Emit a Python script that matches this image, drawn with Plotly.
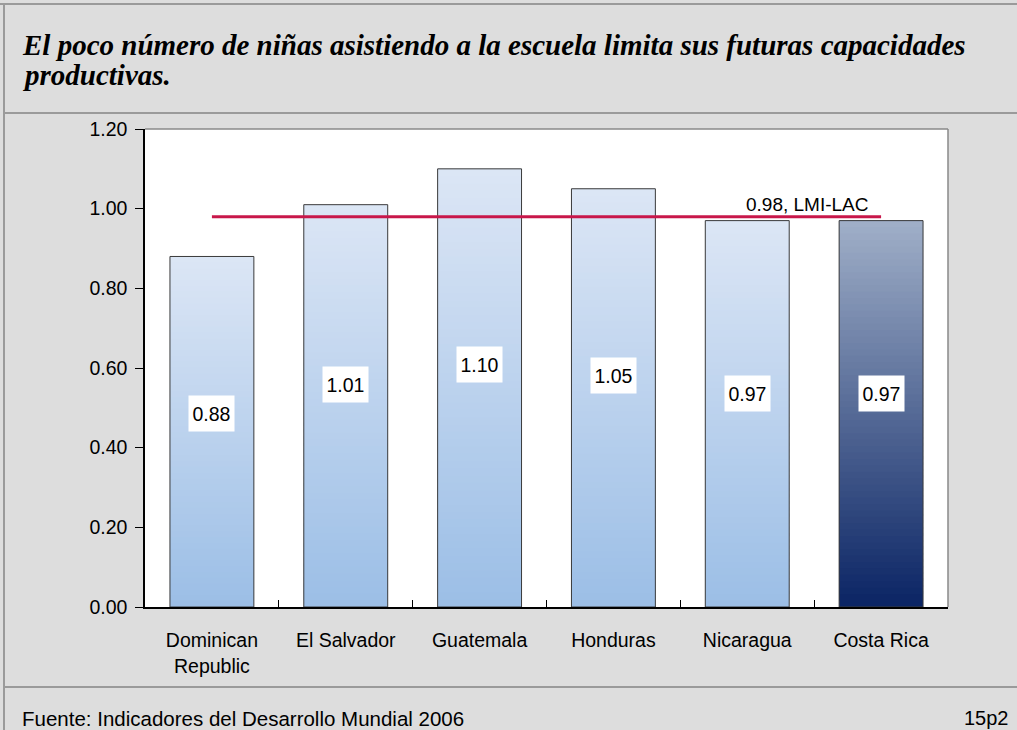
import plotly.graph_objects as go

categories = ["Dominican<br>Republic", "El Salvador", "Guatemala", "Honduras", "Nicaragua", "Costa Rica"]
values = [0.88, 1.01, 1.10, 1.05, 0.97, 0.97]
value_labels = ["0.88", "1.01", "1.10", "1.05", "0.97", "0.97"]
benchmark_value = 0.98
benchmark_label = "0.98, LMI-LAC"
y_ticks = [0.0, 0.2, 0.4, 0.6, 0.8, 1.0, 1.2]
title_line1 = "El poco número de niñas asistiendo a la escuela limita sus futuras capacidades"
title_line2 = "productivas."
source_text = "Fuente: Indicadores del Desarrollo Mundial 2006"
page_text = "15p2"

# gradient colours (bottom, top) per bar
light_bottom, light_top = (155, 190, 230), (220, 230, 245)
dark_bottom, dark_top = (10, 36, 100), (160, 175, 200)
grad = [(light_bottom, light_top)] * 5 + [(dark_bottom, dark_top)]

W, H = 1017, 730
ML, MR, MT, MB = 145, 69, 129, 123
PW, PH = W - ML - MR, H - MT - MB

def px_x(p):
    return (p - ML) / PW

def px_y(p):
    return (H - MB - p) / PH

fig = go.Figure()

N = 60
for i in range(N):
    t = (i + 0.5) / N
    cols = []
    for b, tp in grad:
        c = tuple(round(b[k] * (1 - t) + tp[k] * t) for k in range(3))
        cols.append("rgb(%d,%d,%d)" % c)
    bases = [v * i / N for v in values]
    heights = [min(2.5 * v / N, v - bs) for v, bs in zip(values, bases)]
    fig.add_trace(go.Bar(
        x=categories, y=heights, base=bases,
        marker=dict(color=cols, line=dict(width=0)), showlegend=False, hoverinfo="skip",
    ))

fig.add_trace(go.Bar(
    x=categories, y=values,
    marker=dict(color="rgba(0,0,0,0)", line=dict(color="#3a3a3a", width=1)),
    showlegend=False,
))

fig.add_trace(go.Scatter(
    x=[categories[0], categories[-1]], y=[benchmark_value, benchmark_value],
    mode="lines", line=dict(color="#C8174A", width=3), showlegend=False,
))

for c, v, lab in zip(categories, values, value_labels):
    fig.add_annotation(x=c, y=v * 0.553, text=lab, showarrow=False,
                       bgcolor="white", width=45, height=35, borderpad=0,
                       font=dict(family="Arial, Liberation Sans", size=19.5, color="black"))

fig.add_annotation(x=4.45, y=benchmark_value, yanchor="bottom", yshift=0, text=benchmark_label,
                   showarrow=False, font=dict(family="Arial, Liberation Sans", size=19, color="black"))

# title and footer
title_font = dict(family="Liberation Serif, Times New Roman", size=29, color="black")
fig.add_annotation(xref="paper", yref="paper", x=px_x(20), y=px_y(45), xanchor="left", yanchor="middle",
                   text="<b><i>" + title_line1 + "</i></b>", showarrow=False, font=title_font)
fig.add_annotation(xref="paper", yref="paper", x=px_x(20), y=px_y(75), xanchor="left", yanchor="middle",
                   text="<b><i>" + title_line2 + "</i></b>", showarrow=False, font=title_font)
fig.add_annotation(xref="paper", yref="paper", x=px_x(20), y=px_y(718), xanchor="left", yanchor="middle",
                   text=source_text, showarrow=False,
                   font=dict(family="Arial, Liberation Sans", size=20.5, color="black"))
fig.add_annotation(xref="paper", yref="paper", x=px_x(1011), y=px_y(718), xanchor="right", yanchor="middle",
                   text=page_text, showarrow=False,
                   font=dict(family="Arial, Liberation Sans", size=20, color="black"))

line_gray = "#9a9a9a"
shapes = [
    dict(type="line", xref="paper", yref="paper", x0=px_x(0), x1=px_x(W), y0=px_y(4), y1=px_y(4),
         line=dict(color=line_gray, width=2)),
    dict(type="line", xref="paper", yref="paper", x0=px_x(4), x1=px_x(4), y0=px_y(3), y1=px_y(H),
         line=dict(color=line_gray, width=2)),
    dict(type="line", xref="paper", yref="paper", x0=px_x(4), x1=px_x(W), y0=px_y(113), y1=px_y(113),
         line=dict(color=line_gray, width=2)),
    dict(type="line", xref="paper", yref="paper", x0=px_x(4), x1=px_x(W), y0=px_y(687), y1=px_y(687),
         line=dict(color=line_gray, width=2)),
    dict(type="line", xref="paper", yref="paper", x0=0, x1=1, y0=1, y1=1,
         line=dict(color="#888888", width=1.5)),
    dict(type="line", xref="paper", yref="paper", x0=1, x1=1, y0=0, y1=1,
         line=dict(color="#888888", width=1.5)),
]

fig.update_layout(
    width=W, height=H,
    margin=dict(l=ML, r=MR, t=MT, b=MB),
    paper_bgcolor="#DDDDDD", plot_bgcolor="white",
    barmode="overlay", bargap=0.373,
    shapes=shapes,
    xaxis=dict(showgrid=False, showline=True, linecolor="black", linewidth=1.5,
               ticks="inside", ticklen=7, tickcolor="black", tickson="boundaries",
               tickfont=dict(family="Arial, Liberation Sans", size=19.5, color="black"),
               ticklabelstandoff=15),
    yaxis=dict(range=[0, 1.2], tickvals=y_ticks, ticktext=["%.2f" % v for v in y_ticks],
               showgrid=False, zeroline=False, showline=True, linecolor="black", linewidth=1.5,
               ticks="outside", ticklen=8, tickcolor="black", ticklabelstandoff=4,
               tickfont=dict(family="Arial, Liberation Sans", size=19.5, color="black")),
)

fig.write_html("out.html", config={"displayModeBar": False},
               post_script="document.body.style.margin='0';document.body.style.overflow='hidden';")
